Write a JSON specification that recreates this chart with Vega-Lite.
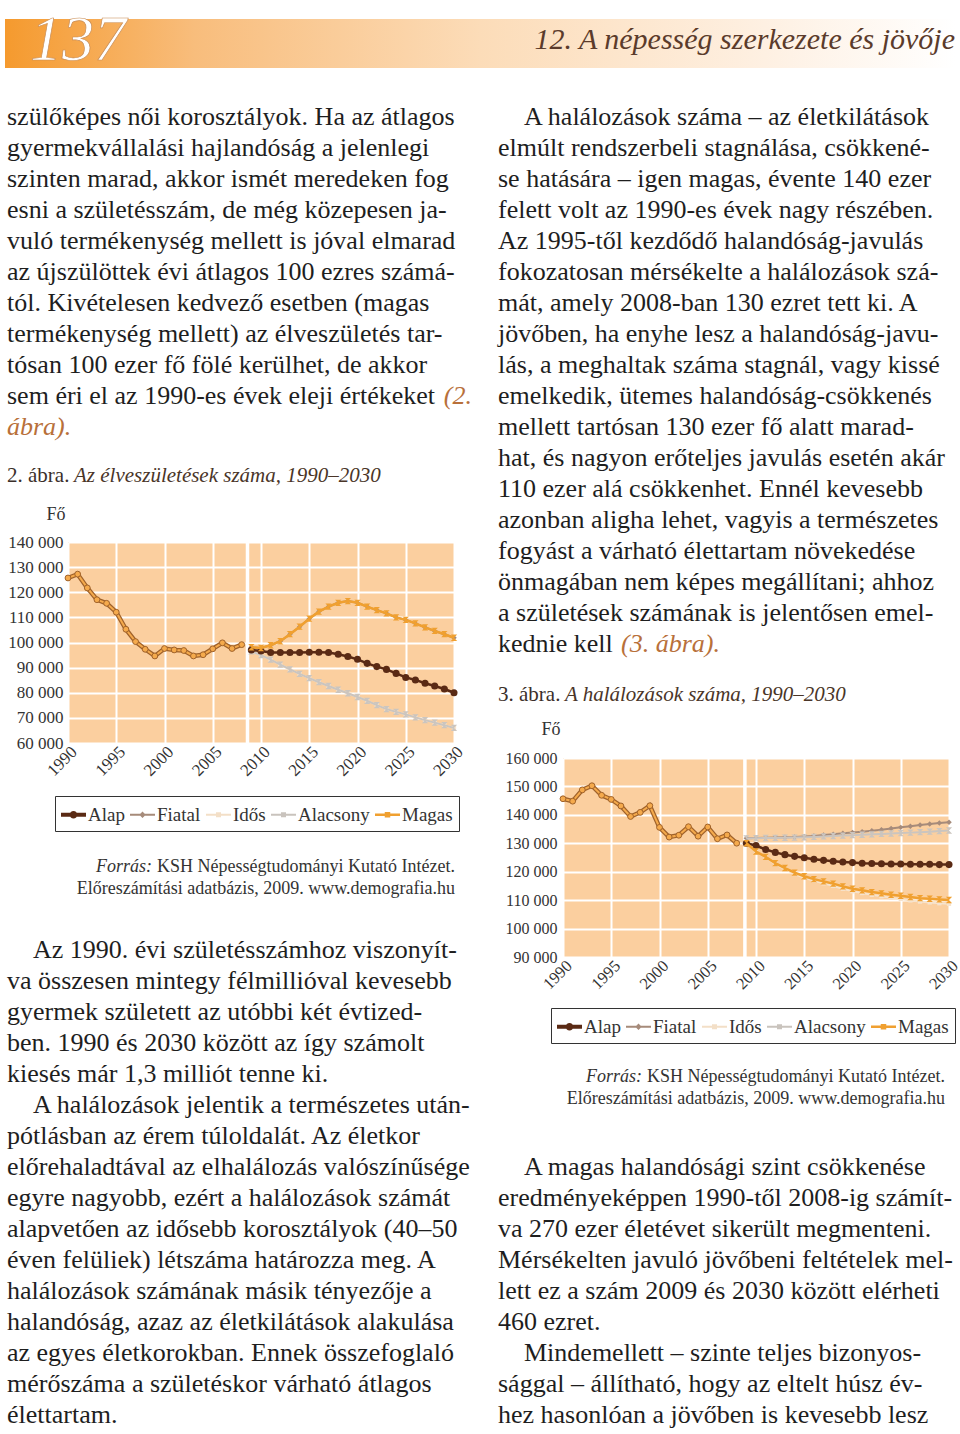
{
"$schema": "https://vega.github.io/schema/vega-lite/v6.json",
"background": "white",
"padding": {"left": 5, "top": 0, "right": 0, "bottom": 0},
"spacing": 0,
"bounds": "flush",
"config": {"view": {"stroke": null}, "concat": {"spacing": 0}, "axis": {"labelOverlap": false}},
"datasets": {
"head": [{"role": "page", "text": "137"}, {"role": "chapter", "text": "12. A népesség szerkezete és jövője"}],
"captions": [{"fig": 2, "line": 1, "num": "2. ábra.", "title": "Az élveszületések száma, 1990–2030"}, {"fig": 3, "line": 1, "num": "3. ábra.", "title": "A halálozások száma, 1990–2030"}],
"src": [{"line": 1, "label": "Forrás:", "text": "KSH Népességtudományi Kutató Intézet."}, {"line": 2, "label": "", "text": "Előreszámítási adatbázis, 2009. www.demografia.hu"}],
"left1": [
{"line": 1, "text": "szülőképes női korosztályok. Ha az átlagos"},
{"line": 2, "text": "gyermekvállalási hajlandóság a jelenlegi"},
{"line": 3, "text": "szinten marad, akkor ismét meredeken fog"},
{"line": 4, "text": "esni a születésszám, de még közepesen ja-"},
{"line": 5, "text": "vuló termékenység mellett is jóval elmarad"},
{"line": 6, "text": "az újszülöttek évi átlagos 100 ezres számá-"},
{"line": 7, "text": "tól. Kivételesen kedvező esetben (magas"},
{"line": 8, "text": "termékenység mellett) az élveszületés tar-"},
{"line": 9, "text": "tósan 100 ezer fő fölé kerülhet, de akkor"},
{"line": 10, "text": "sem éri el az 1990-es évek eleji értékeket"}],
"left1refEnd": [{"line": 10, "text": "(2."}],
"left1refStart": [{"line": 11, "text": "ábra)."}],
"left2first": [
{"line": 1, "text": "Az 1990. évi születésszámhoz viszonyít-"},
{"line": 6, "text": "A halálozások jelentik a természetes után-"}],
"left2": [
{"line": 2, "text": "va összesen mintegy félmillióval kevesebb"},
{"line": 3, "text": "gyermek született az utóbbi két évtized-"},
{"line": 4, "text": "ben. 1990 és 2030 között az így számolt"},
{"line": 5, "text": "kiesés már 1,3 milliót tenne ki."},
{"line": 7, "text": "pótlásban az érem túloldalát. Az életkor"},
{"line": 8, "text": "előrehaladtával az elhalálozás valószínűsége"},
{"line": 9, "text": "egyre nagyobb, ezért a halálozások számát"},
{"line": 10, "text": "alapvetően az idősebb korosztályok (40–50"},
{"line": 11, "text": "éven felüliek) létszáma határozza meg. A"},
{"line": 12, "text": "halálozások számának másik tényezője a"},
{"line": 13, "text": "halandóság, azaz az életkilátások alakulása"},
{"line": 14, "text": "az egyes életkorokban. Ennek összefoglaló"},
{"line": 15, "text": "mérőszáma a születéskor várható átlagos"},
{"line": 16, "text": "élettartam."}],
"right1first": [
{"line": 1, "text": "A halálozások száma – az életkilátások"}],
"right1": [
{"line": 2, "text": "elmúlt rendszerbeli stagnálása, csökkené-"},
{"line": 3, "text": "se hatására – igen magas, évente 140 ezer"},
{"line": 4, "text": "felett volt az 1990-es évek nagy részében."},
{"line": 5, "text": "Az 1995-től kezdődő halandóság-javulás"},
{"line": 6, "text": "fokozatosan mérsékelte a halálozások szá-"},
{"line": 7, "text": "mát, amely 2008-ban 130 ezret tett ki. A"},
{"line": 8, "text": "jövőben, ha enyhe lesz a halandóság-javu-"},
{"line": 9, "text": "lás, a meghaltak száma stagnál, vagy kissé"},
{"line": 10, "text": "emelkedik, ütemes halandóság-csökkenés"},
{"line": 11, "text": "mellett tartósan 130 ezer fő alatt marad-"},
{"line": 12, "text": "hat, és nagyon erőteljes javulás esetén akár"},
{"line": 13, "text": "110 ezer alá csökkenhet. Ennél kevesebb"},
{"line": 14, "text": "azonban aligha lehet, vagyis a természetes"},
{"line": 15, "text": "fogyást a várható élettartam növekedése"},
{"line": 16, "text": "önmagában nem képes megállítani; ahhoz"},
{"line": 17, "text": "a születések számának is jelentősen emel-"},
{"line": 18, "text": "kednie kell"}],
"right1ref": [{"line": 18, "text": "(3. ábra)."}],
"right2first": [
{"line": 1, "text": "A magas halandósági szint csökkenése"},
{"line": 7, "text": "Mindemellett – szinte teljes bizonyos-"}],
"right2": [
{"line": 2, "text": "eredményeképpen 1990-től 2008-ig számít-"},
{"line": 3, "text": "va 270 ezer életévet sikerült megmenteni."},
{"line": 4, "text": "Mérsékelten javuló jövőbeni feltételek mel-"},
{"line": 5, "text": "lett ez a szám 2009 és 2030 között elérheti"},
{"line": 6, "text": "460 ezret."},
{"line": 8, "text": "sággal – állítható, hogy az eltelt húsz év-"},
{"line": 9, "text": "hez hasonlóan a jövőben is kevesebb lesz"}],
"birthsHist": [
{"year": 1990, "value": 125679}, {"year": 1991, "value": 127207}, {"year": 1992, "value": 121724}, {"year": 1993, "value": 117033}, {"year": 1994, "value": 115598}, {"year": 1995, "value": 112054}, {"year": 1996, "value": 105272}, {"year": 1997, "value": 100350}, {"year": 1998, "value": 97301}, {"year": 1999, "value": 94645}, {"year": 2000, "value": 97597}, {"year": 2001, "value": 97047}, {"year": 2002, "value": 96804}, {"year": 2003, "value": 94647}, {"year": 2004, "value": 95137}, {"year": 2005, "value": 97496}, {"year": 2006, "value": 99871}, {"year": 2007, "value": 97613}, {"year": 2008, "value": 99149}],
"deathsHist": [
{"year": 1990, "value": 145660}, {"year": 1991, "value": 144813}, {"year": 1992, "value": 148781}, {"year": 1993, "value": 150244}, {"year": 1994, "value": 146889}, {"year": 1995, "value": 145431}, {"year": 1996, "value": 143130}, {"year": 1997, "value": 139434}, {"year": 1998, "value": 140870}, {"year": 1999, "value": 143210}, {"year": 2000, "value": 135601}, {"year": 2001, "value": 132183}, {"year": 2002, "value": 132833}, {"year": 2003, "value": 135823}, {"year": 2004, "value": 132492}, {"year": 2005, "value": 135732}, {"year": 2006, "value": 131603}, {"year": 2007, "value": 132938}, {"year": 2008, "value": 130027}],
"births": [
{"series": "Alap", "year": 2009, "value": 97000}, {"series": "Alap", "year": 2010, "value": 96600}, {"series": "Alap", "year": 2011, "value": 96000}, {"series": "Alap", "year": 2012, "value": 96000}, {"series": "Alap", "year": 2013, "value": 96000}, {"series": "Alap", "year": 2014, "value": 96000}, {"series": "Alap", "year": 2015, "value": 96100}, {"series": "Alap", "year": 2016, "value": 96100}, {"series": "Alap", "year": 2017, "value": 96000}, {"series": "Alap", "year": 2018, "value": 95300}, {"series": "Alap", "year": 2019, "value": 94400}, {"series": "Alap", "year": 2020, "value": 93300}, {"series": "Alap", "year": 2021, "value": 91700}, {"series": "Alap", "year": 2022, "value": 90400}, {"series": "Alap", "year": 2023, "value": 89300}, {"series": "Alap", "year": 2024, "value": 87700}, {"series": "Alap", "year": 2025, "value": 86100}, {"series": "Alap", "year": 2026, "value": 85100}, {"series": "Alap", "year": 2027, "value": 83800}, {"series": "Alap", "year": 2028, "value": 82700}, {"series": "Alap", "year": 2029, "value": 81500}, {"series": "Alap", "year": 2030, "value": 80000},
{"series": "Magas", "year": 2009, "value": 98100}, {"series": "Magas", "year": 2010, "value": 97800}, {"series": "Magas", "year": 2011, "value": 98900}, {"series": "Magas", "year": 2012, "value": 100500}, {"series": "Magas", "year": 2013, "value": 103300}, {"series": "Magas", "year": 2014, "value": 106300}, {"series": "Magas", "year": 2015, "value": 109500}, {"series": "Magas", "year": 2016, "value": 112300}, {"series": "Magas", "year": 2017, "value": 114300}, {"series": "Magas", "year": 2018, "value": 115800}, {"series": "Magas", "year": 2019, "value": 116500}, {"series": "Magas", "year": 2020, "value": 115800}, {"series": "Magas", "year": 2021, "value": 114300}, {"series": "Magas", "year": 2022, "value": 112900}, {"series": "Magas", "year": 2023, "value": 111600}, {"series": "Magas", "year": 2024, "value": 110000}, {"series": "Magas", "year": 2025, "value": 109000}, {"series": "Magas", "year": 2026, "value": 107600}, {"series": "Magas", "year": 2027, "value": 106000}, {"series": "Magas", "year": 2028, "value": 104600}, {"series": "Magas", "year": 2029, "value": 103300}, {"series": "Magas", "year": 2030, "value": 101900},
{"series": "Fiatal", "year": 2009, "value": 98100}, {"series": "Fiatal", "year": 2010, "value": 97800}, {"series": "Fiatal", "year": 2011, "value": 98900}, {"series": "Fiatal", "year": 2012, "value": 100500}, {"series": "Fiatal", "year": 2013, "value": 103300}, {"series": "Fiatal", "year": 2014, "value": 106300}, {"series": "Fiatal", "year": 2015, "value": 109500}, {"series": "Fiatal", "year": 2016, "value": 112300}, {"series": "Fiatal", "year": 2017, "value": 114300}, {"series": "Fiatal", "year": 2018, "value": 115800}, {"series": "Fiatal", "year": 2019, "value": 116500}, {"series": "Fiatal", "year": 2020, "value": 115800}, {"series": "Fiatal", "year": 2021, "value": 114300}, {"series": "Fiatal", "year": 2022, "value": 112900}, {"series": "Fiatal", "year": 2023, "value": 111600}, {"series": "Fiatal", "year": 2024, "value": 110000}, {"series": "Fiatal", "year": 2025, "value": 109000}, {"series": "Fiatal", "year": 2026, "value": 107600}, {"series": "Fiatal", "year": 2027, "value": 106000}, {"series": "Fiatal", "year": 2028, "value": 104600}, {"series": "Fiatal", "year": 2029, "value": 103300}, {"series": "Fiatal", "year": 2030, "value": 101900},
{"series": "Alacsony", "year": 2009, "value": 96500}, {"series": "Alacsony", "year": 2010, "value": 95000}, {"series": "Alacsony", "year": 2011, "value": 93200}, {"series": "Alacsony", "year": 2012, "value": 91200}, {"series": "Alacsony", "year": 2013, "value": 89300}, {"series": "Alacsony", "year": 2014, "value": 87500}, {"series": "Alacsony", "year": 2015, "value": 85800}, {"series": "Alacsony", "year": 2016, "value": 84200}, {"series": "Alacsony", "year": 2017, "value": 82700}, {"series": "Alacsony", "year": 2018, "value": 81200}, {"series": "Alacsony", "year": 2019, "value": 79800}, {"series": "Alacsony", "year": 2020, "value": 78300}, {"series": "Alacsony", "year": 2021, "value": 76800}, {"series": "Alacsony", "year": 2022, "value": 75100}, {"series": "Alacsony", "year": 2023, "value": 73500}, {"series": "Alacsony", "year": 2024, "value": 72400}, {"series": "Alacsony", "year": 2025, "value": 71400}, {"series": "Alacsony", "year": 2026, "value": 70200}, {"series": "Alacsony", "year": 2027, "value": 69100}, {"series": "Alacsony", "year": 2028, "value": 68100}, {"series": "Alacsony", "year": 2029, "value": 67100}, {"series": "Alacsony", "year": 2030, "value": 66000},
{"series": "Idős", "year": 2009, "value": 96500}, {"series": "Idős", "year": 2010, "value": 95000}, {"series": "Idős", "year": 2011, "value": 93200}, {"series": "Idős", "year": 2012, "value": 91200}, {"series": "Idős", "year": 2013, "value": 89300}, {"series": "Idős", "year": 2014, "value": 87500}, {"series": "Idős", "year": 2015, "value": 85800}, {"series": "Idős", "year": 2016, "value": 84200}, {"series": "Idős", "year": 2017, "value": 82700}, {"series": "Idős", "year": 2018, "value": 81200}, {"series": "Idős", "year": 2019, "value": 79800}, {"series": "Idős", "year": 2020, "value": 78300}, {"series": "Idős", "year": 2021, "value": 76800}, {"series": "Idős", "year": 2022, "value": 75100}, {"series": "Idős", "year": 2023, "value": 73500}, {"series": "Idős", "year": 2024, "value": 72400}, {"series": "Idős", "year": 2025, "value": 71400}, {"series": "Idős", "year": 2026, "value": 70200}, {"series": "Idős", "year": 2027, "value": 69100}, {"series": "Idős", "year": 2028, "value": 68100}, {"series": "Idős", "year": 2029, "value": 67100}, {"series": "Idős", "year": 2030, "value": 66000}],
"deaths": [
{"series": "Alap", "year": 2009, "value": 130000}, {"series": "Alap", "year": 2010, "value": 129200}, {"series": "Alap", "year": 2011, "value": 127800}, {"series": "Alap", "year": 2012, "value": 126800}, {"series": "Alap", "year": 2013, "value": 126000}, {"series": "Alap", "year": 2014, "value": 125400}, {"series": "Alap", "year": 2015, "value": 124900}, {"series": "Alap", "year": 2016, "value": 124400}, {"series": "Alap", "year": 2017, "value": 124000}, {"series": "Alap", "year": 2018, "value": 123700}, {"series": "Alap", "year": 2019, "value": 123400}, {"series": "Alap", "year": 2020, "value": 123200}, {"series": "Alap", "year": 2021, "value": 123000}, {"series": "Alap", "year": 2022, "value": 122900}, {"series": "Alap", "year": 2023, "value": 122800}, {"series": "Alap", "year": 2024, "value": 122700}, {"series": "Alap", "year": 2025, "value": 122700}, {"series": "Alap", "year": 2026, "value": 122600}, {"series": "Alap", "year": 2027, "value": 122600}, {"series": "Alap", "year": 2028, "value": 122600}, {"series": "Alap", "year": 2029, "value": 122500}, {"series": "Alap", "year": 2030, "value": 122500},
{"series": "Magas", "year": 2009, "value": 130000}, {"series": "Magas", "year": 2010, "value": 127100}, {"series": "Magas", "year": 2011, "value": 125200}, {"series": "Magas", "year": 2012, "value": 123000}, {"series": "Magas", "year": 2013, "value": 121300}, {"series": "Magas", "year": 2014, "value": 119700}, {"series": "Magas", "year": 2015, "value": 118400}, {"series": "Magas", "year": 2016, "value": 117400}, {"series": "Magas", "year": 2017, "value": 116600}, {"series": "Magas", "year": 2018, "value": 115800}, {"series": "Magas", "year": 2019, "value": 114850}, {"series": "Magas", "year": 2020, "value": 114000}, {"series": "Magas", "year": 2021, "value": 113450}, {"series": "Magas", "year": 2022, "value": 112850}, {"series": "Magas", "year": 2023, "value": 112400}, {"series": "Magas", "year": 2024, "value": 111900}, {"series": "Magas", "year": 2025, "value": 111550}, {"series": "Magas", "year": 2026, "value": 111100}, {"series": "Magas", "year": 2027, "value": 110700}, {"series": "Magas", "year": 2028, "value": 110500}, {"series": "Magas", "year": 2029, "value": 110250}, {"series": "Magas", "year": 2030, "value": 110050},
{"series": "Idős", "year": 2009, "value": 130000}, {"series": "Idős", "year": 2010, "value": 127000}, {"series": "Idős", "year": 2011, "value": 125000}, {"series": "Idős", "year": 2012, "value": 122700}, {"series": "Idős", "year": 2013, "value": 120900}, {"series": "Idős", "year": 2014, "value": 119200}, {"series": "Idős", "year": 2015, "value": 117900}, {"series": "Idős", "year": 2016, "value": 116800}, {"series": "Idős", "year": 2017, "value": 115900}, {"series": "Idős", "year": 2018, "value": 115000}, {"series": "Idős", "year": 2019, "value": 114000}, {"series": "Idős", "year": 2020, "value": 113100}, {"series": "Idős", "year": 2021, "value": 112500}, {"series": "Idős", "year": 2022, "value": 111850}, {"series": "Idős", "year": 2023, "value": 111350}, {"series": "Idős", "year": 2024, "value": 110800}, {"series": "Idős", "year": 2025, "value": 110400}, {"series": "Idős", "year": 2026, "value": 109900}, {"series": "Idős", "year": 2027, "value": 109500}, {"series": "Idős", "year": 2028, "value": 109200}, {"series": "Idős", "year": 2029, "value": 108900}, {"series": "Idős", "year": 2030, "value": 108700},
{"series": "Fiatal", "year": 2009, "value": 131800}, {"series": "Fiatal", "year": 2010, "value": 131900}, {"series": "Fiatal", "year": 2011, "value": 131950}, {"series": "Fiatal", "year": 2012, "value": 132000}, {"series": "Fiatal", "year": 2013, "value": 132100}, {"series": "Fiatal", "year": 2014, "value": 132200}, {"series": "Fiatal", "year": 2015, "value": 132400}, {"series": "Fiatal", "year": 2016, "value": 132600}, {"series": "Fiatal", "year": 2017, "value": 132900}, {"series": "Fiatal", "year": 2018, "value": 133200}, {"series": "Fiatal", "year": 2019, "value": 133500}, {"series": "Fiatal", "year": 2020, "value": 133800}, {"series": "Fiatal", "year": 2021, "value": 134100}, {"series": "Fiatal", "year": 2022, "value": 134400}, {"series": "Fiatal", "year": 2023, "value": 134800}, {"series": "Fiatal", "year": 2024, "value": 135200}, {"series": "Fiatal", "year": 2025, "value": 135600}, {"series": "Fiatal", "year": 2026, "value": 136000}, {"series": "Fiatal", "year": 2027, "value": 136400}, {"series": "Fiatal", "year": 2028, "value": 136800}, {"series": "Fiatal", "year": 2029, "value": 137100}, {"series": "Fiatal", "year": 2030, "value": 137400},
{"series": "Alacsony", "year": 2009, "value": 131700}, {"series": "Alacsony", "year": 2010, "value": 131800}, {"series": "Alacsony", "year": 2011, "value": 131850}, {"series": "Alacsony", "year": 2012, "value": 131900}, {"series": "Alacsony", "year": 2013, "value": 131950}, {"series": "Alacsony", "year": 2014, "value": 132000}, {"series": "Alacsony", "year": 2015, "value": 132100}, {"series": "Alacsony", "year": 2016, "value": 132250}, {"series": "Alacsony", "year": 2017, "value": 132400}, {"series": "Alacsony", "year": 2018, "value": 132550}, {"series": "Alacsony", "year": 2019, "value": 132700}, {"series": "Alacsony", "year": 2020, "value": 132850}, {"series": "Alacsony", "year": 2021, "value": 133000}, {"series": "Alacsony", "year": 2022, "value": 133150}, {"series": "Alacsony", "year": 2023, "value": 133300}, {"series": "Alacsony", "year": 2024, "value": 133450}, {"series": "Alacsony", "year": 2025, "value": 133600}, {"series": "Alacsony", "year": 2026, "value": 133750}, {"series": "Alacsony", "year": 2027, "value": 133900}, {"series": "Alacsony", "year": 2028, "value": 134100}, {"series": "Alacsony", "year": 2029, "value": 134300}, {"series": "Alacsony", "year": 2030, "value": 134500}]
},
"vconcat": [
{"width": 1, "height": 19, "data": {"values": []}, "mark": "point"},
{"width": 950, "height": 49, "data": {"name": "head"},
 "layer": [
  {"transform": [{"filter": "datum.role === 'page'"}],
   "mark": {"type": "rect", "color": {"gradient": "linear", "x1": 0, "y1": 0, "x2": 1, "y2": 0, "stops": [{"offset": 0, "color": "#f59a2e"}, {"offset": 0.2, "color": "#f8bd7c"}, {"offset": 0.5, "color": "#fcdcb8"}, {"offset": 0.8, "color": "#fef0e2"}, {"offset": 1, "color": "#ffffff"}]}},
   "encoding": {"x": {"datum": 0, "type": "quantitative", "scale": {"domain": [0, 1]}, "axis": null}, "x2": {"datum": 1}}},
  {"transform": [{"filter": "datum.role === 'page'"}],
   "mark": {"type": "text", "align": "left", "baseline": "alphabetic", "dx": 25, "dy": 16.5, "font": "Liberation Serif", "fontStyle": "italic", "fontSize": 64, "color": "#ffffff", "stroke": "#c98d55", "strokeWidth": 0.7},
   "encoding": {"x": {"datum": 0, "type": "quantitative"}, "text": {"field": "text", "type": "nominal"}}},
  {"transform": [{"filter": "datum.role === 'chapter'"}],
   "mark": {"type": "text", "align": "right", "baseline": "middle", "dy": -3.5, "font": "Liberation Serif", "fontStyle": "italic", "fontSize": 30, "color": "#5b3b2b"},
   "encoding": {"x": {"datum": 1, "type": "quantitative"}, "text": {"field": "text", "type": "nominal"}}}
 ]},
{"width": 1, "height": 33, "data": {"values": []}, "mark": "point"},
{"hconcat": [
  {"width": 2, "height": 1, "data": {"values": []}, "mark": "point"},
  {"vconcat": [
    {"width": 480, "height": 341,
     "layer": [
      {"data": {"name": "left1"}, "mark": {"type": "text", "align": "left", "baseline": "middle", "font": "Liberation Serif", "fontSize": 26, "color": "#1e1e1e"},
       "encoding": {"x": {"datum": 0, "type": "quantitative", "scale": {"domain": [0, 1]}, "axis": null}, "y": {"field": "line", "type": "quantitative", "scale": {"domain": [0.5, 11.5], "reverse": true, "nice": false, "zero": false}, "axis": null}, "text": {"field": "text", "type": "nominal"}}},
      {"data": {"name": "left1refEnd"}, "mark": {"type": "text", "align": "right", "baseline": "middle", "dx": -15, "font": "Liberation Serif", "fontStyle": "italic", "fontSize": 26, "color": "#b8703a"},
       "encoding": {"x": {"datum": 1, "type": "quantitative"}, "y": {"field": "line", "type": "quantitative"}, "text": {"field": "text", "type": "nominal"}}},
      {"data": {"name": "left1refStart"}, "mark": {"type": "text", "align": "left", "baseline": "middle", "font": "Liberation Serif", "fontStyle": "italic", "fontSize": 26, "color": "#b8703a"},
       "encoding": {"x": {"datum": 0, "type": "quantitative"}, "y": {"field": "line", "type": "quantitative"}, "text": {"field": "text", "type": "nominal"}}}
     ]},
    {"width": 480, "height": 63, "data": {"name": "captions"}, "transform": [{"filter": "datum.fig === 2"}],
     "layer": [
      {"mark": {"type": "text", "align": "left", "baseline": "middle", "dy": 2.5, "font": "Liberation Serif", "fontSize": 21, "color": "#3b2f2a"},
       "encoding": {"x": {"datum": 0, "type": "quantitative", "scale": {"domain": [0, 1]}, "axis": null}, "y": {"field": "line", "type": "quantitative", "scale": {"domain": [0.5, 1.5], "reverse": true, "nice": false, "zero": false}, "axis": null}, "text": {"field": "num", "type": "nominal"}}},
      {"mark": {"type": "text", "align": "left", "baseline": "middle", "dx": 67, "dy": 2.5, "font": "Liberation Serif", "fontStyle": "italic", "fontSize": 21, "color": "#4a3528"},
       "encoding": {"x": {"datum": 0, "type": "quantitative"}, "y": {"field": "line", "type": "quantitative"}, "text": {"field": "title", "type": "nominal"}}}
     ]},
    {"hconcat": [
      {"width": 61, "height": 1, "data": {"values": []}, "mark": "point"},
      {"width": 386, "height": 201, "view": {"fill": "#fbcf9f", "stroke": null},
       "layer": [
        {"data": {"name": "births"}, "transform": [{"filter": "datum.series === 'Idős'"}],
         "mark": {"type": "line", "color": "#f6e3cd", "strokeWidth": 2, "point": {"shape": "square", "size": 18, "filled": true, "color": "#f6e3cd", "opacity": 1}},
         "encoding": {
          "x": {"field": "year", "type": "quantitative", "scale": {"domain": [1990, 2030], "nice": false, "zero": false}, "axis": {"values": [1990, 1995, 2000, 2005, 2010, 2015, 2020, 2025, 2030], "tickCount": 20, "format": "d", "title": null, "labelAngle": -45, "labelAlign": "right", "labelBaseline": "middle", "labelPadding": 6, "labelOffset": 6, "labelFlush": false, "labelOverlap": false, "labelBound": false, "domain": false, "ticks": false, "grid": true, "gridColor": "#ffffff", "gridWidth": 2, "gridOpacity": 1, "labelFont": "Liberation Serif", "labelFontSize": 17, "labelColor": "#333333"}},
          "y": {"field": "value", "type": "quantitative", "scale": {"domain": [60000, 140000], "nice": false, "zero": false}, "axis": {"values": [60000, 70000, 80000, 90000, 100000, 110000, 120000, 130000, 140000], "tickCount": 20, "labelExpr": "replace(format(datum.value, ','), ',', ' ')", "labelOverlap": false, "labelFlush": false, "title": "Fő", "titleAngle": 0, "titleAlign": "right", "titleBaseline": "middle", "titleX": -3, "titleY": -28, "titleFont": "Liberation Serif", "titleFontSize": 18, "titleFontWeight": "normal", "titleColor": "#333333", "labelPadding": 5, "domain": false, "ticks": false, "grid": true, "gridColor": "#ffffff", "gridWidth": 2, "gridOpacity": 1, "labelFont": "Liberation Serif", "labelFontSize": 17, "labelColor": "#333333"}}}},
        {"data": {"values": [{"boundary": "előreszámítás kezdete"}]}, "mark": {"type": "rule", "color": "#ffffff", "strokeWidth": 3.5}, "encoding": {"x": {"datum": 2008.6, "type": "quantitative"}}},
        {"data": {"name": "births"}, "transform": [{"filter": "datum.series === 'Fiatal'"}],
         "mark": {"type": "line", "color": "#a68b7a", "strokeWidth": 2, "point": {"shape": "diamond", "size": 30, "filled": true, "color": "#a68b7a", "opacity": 1}},
         "encoding": {"x": {"field": "year", "type": "quantitative"}, "y": {"field": "value", "type": "quantitative"}}},
        {"data": {"name": "births"}, "transform": [{"filter": "datum.series === 'Alacsony'"}],
         "mark": {"type": "line", "color": "#cbc5bf", "strokeWidth": 2, "point": {"shape": "M-1,-1H1L-1,1H1Z", "size": 40, "filled": true, "color": "#cbc5bf", "opacity": 1}},
         "encoding": {"x": {"field": "year", "type": "quantitative"}, "y": {"field": "value", "type": "quantitative"}}},
        {"data": {"name": "births"}, "transform": [{"filter": "datum.series === 'Alap'"}],
         "mark": {"type": "line", "color": "#5a2a14", "strokeWidth": 2.5, "point": {"shape": "circle", "size": 50, "filled": true, "color": "#5a2a14", "opacity": 1}},
         "encoding": {"x": {"field": "year", "type": "quantitative"}, "y": {"field": "value", "type": "quantitative"}}},
        {"data": {"name": "births"}, "transform": [{"filter": "datum.series === 'Magas'"}],
         "mark": {"type": "line", "color": "#f0a030", "strokeWidth": 2.5, "point": {"shape": "M-1,-1H1L-1,1H1Z", "size": 40, "filled": true, "color": "#f0a030", "opacity": 1}},
         "encoding": {"x": {"field": "year", "type": "quantitative"}, "y": {"field": "value", "type": "quantitative"}}},
        {"data": {"name": "birthsHist"}, "mark": {"type": "line", "color": "#a0622a", "strokeWidth": 4.5},
         "encoding": {"x": {"field": "year", "type": "quantitative"}, "y": {"field": "value", "type": "quantitative"}}},
        {"data": {"name": "birthsHist"}, "mark": {"type": "line", "color": "#f5aa4c", "strokeWidth": 2, "point": {"shape": "circle", "size": 34, "filled": true, "fill": "#f5aa4c", "stroke": "#a0622a", "strokeWidth": 1, "opacity": 1}},
         "encoding": {"x": {"field": "year", "type": "quantitative"}, "y": {"field": "value", "type": "quantitative"}}},
        {"data": {"values": []}, "mark": {"type": "point", "filled": true, "size": 625, "opacity": 1, "strokeWidth": 0},
         "encoding": {
          "fill": {"field": "series", "type": "nominal", "scale": {"domain": ["Alap", "Fiatal", "Idős", "Alacsony", "Magas"], "range": ["#5a2a14", "#a68b7a", "#f3dfc7", "#c9c3bd", "#f0a030"]}, "legend": {"title": null, "orient": "none", "legendX": -13, "legendY": 254, "direction": "horizontal", "strokeColor": "#333333", "padding": 6, "symbolSize": 625, "symbolStrokeWidth": 0, "labelFont": "Liberation Serif", "labelFontSize": 19, "labelColor": "#333333", "labelOffset": 2, "columnPadding": 5}},
          "shape": {"field": "series", "type": "nominal", "scale": {"domain": ["Alap", "Fiatal", "Idős", "Alacsony", "Magas"], "range": ["M-1,-0.16H1V0.16H-1Z M0.3,0A0.3,0.3 0 1,1 -0.3,0A0.3,0.3 0 1,1 0.3,0Z", "M-1,-0.08H1V0.08H-1Z M0,-0.26L0.26,0L0,0.26L-0.26,0Z", "M-1,-0.08H1V0.08H-1Z M-0.2,-0.2H0.2V0.2H-0.2Z", "M-1,-0.08H1V0.08H-1Z M-0.2,-0.2H0.2V0.2H-0.2Z", "M-1,-0.1H1V0.1H-1Z M-0.22,-0.22H0.22V0.22H-0.22Z"]}, "legend": {"title": null, "orient": "none", "legendX": -13, "legendY": 254, "direction": "horizontal", "strokeColor": "#333333", "padding": 6, "symbolSize": 625, "symbolStrokeWidth": 0, "labelFont": "Liberation Serif", "labelFontSize": 19, "labelColor": "#333333", "labelOffset": 2, "columnPadding": 5}}}}
       ]}
     ], "spacing": 0, "bounds": "flush",
     "resolve": {"scale": {"fill": "independent", "shape": "independent"}, "legend": {"fill": "independent", "shape": "independent"}}},
    {"width": 1, "height": 23.5, "data": {"values": []}, "mark": "point"},
    {"width": 448, "height": 44, "data": {"name": "src"},
     "layer": [
      {"mark": {"type": "text", "align": "right", "baseline": "middle", "font": "Liberation Serif", "fontSize": 18, "color": "#333333"},
       "encoding": {"x": {"datum": 1, "type": "quantitative", "scale": {"domain": [0, 1]}, "axis": null}, "y": {"field": "line", "type": "quantitative", "scale": {"domain": [0.5, 2.5], "reverse": true, "nice": false, "zero": false}, "axis": null}, "text": {"field": "text", "type": "nominal"}}},
      {"mark": {"type": "text", "align": "right", "baseline": "middle", "dx": -303, "font": "Liberation Serif", "fontStyle": "italic", "fontSize": 18, "color": "#333333"},
       "encoding": {"x": {"datum": 1, "type": "quantitative"}, "y": {"field": "line", "type": "quantitative"}, "text": {"field": "label", "type": "nominal"}}}
     ]},
    {"width": 1, "height": 33.5, "data": {"values": []}, "mark": "point"},
    {"width": 480, "height": 496,
     "layer": [
      {"data": {"name": "left2"}, "mark": {"type": "text", "align": "left", "baseline": "middle", "font": "Liberation Serif", "fontSize": 26, "color": "#1e1e1e"},
       "encoding": {"x": {"datum": 0, "type": "quantitative", "scale": {"domain": [0, 1]}, "axis": null}, "y": {"field": "line", "type": "quantitative", "scale": {"domain": [0.5, 16.5], "reverse": true, "nice": false, "zero": false}, "axis": null}, "text": {"field": "text", "type": "nominal"}}},
      {"data": {"name": "left2first"}, "mark": {"type": "text", "align": "left", "baseline": "middle", "dx": 26, "font": "Liberation Serif", "fontSize": 26, "color": "#1e1e1e"},
       "encoding": {"x": {"datum": 0, "type": "quantitative"}, "y": {"field": "line", "type": "quantitative"}, "text": {"field": "text", "type": "nominal"}}}
     ]}
   ], "spacing": 0, "bounds": "full"},
  {"width": 11, "height": 1, "data": {"values": []}, "mark": "point"},
  {"vconcat": [
    {"width": 459, "height": 558,
     "layer": [
      {"data": {"name": "right1"}, "mark": {"type": "text", "align": "left", "baseline": "middle", "font": "Liberation Serif", "fontSize": 26, "color": "#1e1e1e"},
       "encoding": {"x": {"datum": 0, "type": "quantitative", "scale": {"domain": [0, 1]}, "axis": null}, "y": {"field": "line", "type": "quantitative", "scale": {"domain": [0.5, 18.5], "reverse": true, "nice": false, "zero": false}, "axis": null}, "text": {"field": "text", "type": "nominal"}}},
      {"data": {"name": "right1first"}, "mark": {"type": "text", "align": "left", "baseline": "middle", "dx": 26, "font": "Liberation Serif", "fontSize": 26, "color": "#1e1e1e"},
       "encoding": {"x": {"datum": 0, "type": "quantitative"}, "y": {"field": "line", "type": "quantitative"}, "text": {"field": "text", "type": "nominal"}}},
      {"data": {"name": "right1ref"}, "mark": {"type": "text", "align": "left", "baseline": "middle", "dx": 123, "font": "Liberation Serif", "fontStyle": "italic", "fontSize": 26, "color": "#b8703a"},
       "encoding": {"x": {"datum": 0, "type": "quantitative"}, "y": {"field": "line", "type": "quantitative"}, "text": {"field": "text", "type": "nominal"}}}
     ]},
    {"width": 459, "height": 61, "data": {"name": "captions"}, "transform": [{"filter": "datum.fig === 3"}],
     "layer": [
      {"mark": {"type": "text", "align": "left", "baseline": "middle", "dy": 5.5, "font": "Liberation Serif", "fontSize": 21, "color": "#3b2f2a"},
       "encoding": {"x": {"datum": 0, "type": "quantitative", "scale": {"domain": [0, 1]}, "axis": null}, "y": {"field": "line", "type": "quantitative", "scale": {"domain": [0.5, 1.5], "reverse": true, "nice": false, "zero": false}, "axis": null}, "text": {"field": "num", "type": "nominal"}}},
      {"mark": {"type": "text", "align": "left", "baseline": "middle", "dx": 67, "dy": 5.5, "font": "Liberation Serif", "fontStyle": "italic", "fontSize": 21, "color": "#4a3528"},
       "encoding": {"x": {"datum": 0, "type": "quantitative"}, "y": {"field": "line", "type": "quantitative"}, "text": {"field": "title", "type": "nominal"}}}
     ]},
    {"hconcat": [
      {"width": 65, "height": 1, "data": {"values": []}, "mark": "point"},
      {"width": 386, "height": 199, "view": {"fill": "#fbcf9f", "stroke": null},
       "layer": [
        {"data": {"name": "deaths"}, "transform": [{"filter": "datum.series === 'Idős'"}],
         "mark": {"type": "line", "color": "#f6e3cd", "strokeWidth": 2, "point": {"shape": "square", "size": 18, "filled": true, "color": "#f6e3cd", "opacity": 1}},
         "encoding": {
          "x": {"field": "year", "type": "quantitative", "scale": {"domain": [1990, 2030], "nice": false, "zero": false}, "axis": {"values": [1990, 1995, 2000, 2005, 2010, 2015, 2020, 2025, 2030], "tickCount": 20, "format": "d", "title": null, "labelAngle": -45, "labelAlign": "right", "labelBaseline": "middle", "labelPadding": 6, "labelOffset": 6, "labelFlush": false, "labelOverlap": false, "labelBound": false, "domain": false, "ticks": false, "grid": true, "gridColor": "#ffffff", "gridWidth": 2, "gridOpacity": 1, "labelFont": "Liberation Serif", "labelFontSize": 16.5, "labelColor": "#333333"}},
          "y": {"field": "value", "type": "quantitative", "scale": {"domain": [90000, 160000], "nice": false, "zero": false}, "axis": {"values": [90000, 100000, 110000, 120000, 130000, 140000, 150000, 160000], "tickCount": 20, "labelExpr": "replace(format(datum.value, ','), ',', ' ')", "labelOverlap": false, "labelFlush": false, "title": "Fő", "titleAngle": 0, "titleAlign": "right", "titleBaseline": "middle", "titleX": -3, "titleY": -29, "titleFont": "Liberation Serif", "titleFontSize": 18, "titleFontWeight": "normal", "titleColor": "#333333", "labelPadding": 6, "domain": false, "ticks": false, "grid": true, "gridColor": "#ffffff", "gridWidth": 2, "gridOpacity": 1, "labelFont": "Liberation Serif", "labelFontSize": 16, "labelColor": "#333333"}}}},
        {"data": {"values": [{"boundary": "előreszámítás kezdete"}]}, "mark": {"type": "rule", "color": "#ffffff", "strokeWidth": 3.5}, "encoding": {"x": {"datum": 2008.85, "type": "quantitative"}}},
        {"data": {"name": "deaths"}, "transform": [{"filter": "datum.series === 'Fiatal'"}],
         "mark": {"type": "line", "color": "#a68b7a", "strokeWidth": 2, "point": {"shape": "diamond", "size": 30, "filled": true, "color": "#a68b7a", "opacity": 1}},
         "encoding": {"x": {"field": "year", "type": "quantitative"}, "y": {"field": "value", "type": "quantitative"}}},
        {"data": {"name": "deaths"}, "transform": [{"filter": "datum.series === 'Alacsony'"}],
         "mark": {"type": "line", "color": "#cbc5bf", "strokeWidth": 2, "point": {"shape": "M-1,-1H1L-1,1H1Z", "size": 40, "filled": true, "color": "#cbc5bf", "opacity": 1}},
         "encoding": {"x": {"field": "year", "type": "quantitative"}, "y": {"field": "value", "type": "quantitative"}}},
        {"data": {"name": "deaths"}, "transform": [{"filter": "datum.series === 'Alap'"}],
         "mark": {"type": "line", "color": "#5a2a14", "strokeWidth": 2.5, "point": {"shape": "circle", "size": 50, "filled": true, "color": "#5a2a14", "opacity": 1}},
         "encoding": {"x": {"field": "year", "type": "quantitative"}, "y": {"field": "value", "type": "quantitative"}}},
        {"data": {"name": "deaths"}, "transform": [{"filter": "datum.series === 'Magas'"}],
         "mark": {"type": "line", "color": "#f0a030", "strokeWidth": 2.5, "point": {"shape": "M-1,-1H1L-1,1H1Z", "size": 40, "filled": true, "color": "#f0a030", "opacity": 1}},
         "encoding": {"x": {"field": "year", "type": "quantitative"}, "y": {"field": "value", "type": "quantitative"}}},
        {"data": {"name": "deathsHist"}, "mark": {"type": "line", "color": "#a0622a", "strokeWidth": 4.5},
         "encoding": {"x": {"field": "year", "type": "quantitative"}, "y": {"field": "value", "type": "quantitative"}}},
        {"data": {"name": "deathsHist"}, "mark": {"type": "line", "color": "#f5aa4c", "strokeWidth": 2, "point": {"shape": "circle", "size": 34, "filled": true, "fill": "#f5aa4c", "stroke": "#a0622a", "strokeWidth": 1, "opacity": 1}},
         "encoding": {"x": {"field": "year", "type": "quantitative"}, "y": {"field": "value", "type": "quantitative"}}},
        {"data": {"values": []}, "mark": {"type": "point", "filled": true, "size": 625, "opacity": 1, "strokeWidth": 0},
         "encoding": {
          "fill": {"field": "series", "type": "nominal", "scale": {"domain": ["Alap", "Fiatal", "Idős", "Alacsony", "Magas"], "range": ["#5a2a14", "#a68b7a", "#f3dfc7", "#c9c3bd", "#f0a030"]}, "legend": {"title": null, "orient": "none", "legendX": -12, "legendY": 250, "direction": "horizontal", "strokeColor": "#333333", "padding": 6, "symbolSize": 625, "symbolStrokeWidth": 0, "labelFont": "Liberation Serif", "labelFontSize": 19, "labelColor": "#333333", "labelOffset": 2, "columnPadding": 5}},
          "shape": {"field": "series", "type": "nominal", "scale": {"domain": ["Alap", "Fiatal", "Idős", "Alacsony", "Magas"], "range": ["M-1,-0.16H1V0.16H-1Z M0.3,0A0.3,0.3 0 1,1 -0.3,0A0.3,0.3 0 1,1 0.3,0Z", "M-1,-0.08H1V0.08H-1Z M0,-0.26L0.26,0L0,0.26L-0.26,0Z", "M-1,-0.08H1V0.08H-1Z M-0.2,-0.2H0.2V0.2H-0.2Z", "M-1,-0.08H1V0.08H-1Z M-0.2,-0.2H0.2V0.2H-0.2Z", "M-1,-0.1H1V0.1H-1Z M-0.22,-0.22H0.22V0.22H-0.22Z"]}, "legend": {"title": null, "orient": "none", "legendX": -12, "legendY": 250, "direction": "horizontal", "strokeColor": "#333333", "padding": 6, "symbolSize": 625, "symbolStrokeWidth": 0, "labelFont": "Liberation Serif", "labelFontSize": 19, "labelColor": "#333333", "labelOffset": 2, "columnPadding": 5}}}}
       ]}
     ], "spacing": 0, "bounds": "flush",
     "resolve": {"scale": {"fill": "independent", "shape": "independent"}, "legend": {"fill": "independent", "shape": "independent"}}},
    {"width": 1, "height": 21.5, "data": {"values": []}, "mark": "point"},
    {"width": 447, "height": 44, "data": {"name": "src"},
     "layer": [
      {"mark": {"type": "text", "align": "right", "baseline": "middle", "font": "Liberation Serif", "fontSize": 18, "color": "#333333"},
       "encoding": {"x": {"datum": 1, "type": "quantitative", "scale": {"domain": [0, 1]}, "axis": null}, "y": {"field": "line", "type": "quantitative", "scale": {"domain": [0.5, 2.5], "reverse": true, "nice": false, "zero": false}, "axis": null}, "text": {"field": "text", "type": "nominal"}}},
      {"mark": {"type": "text", "align": "right", "baseline": "middle", "dx": -303, "font": "Liberation Serif", "fontStyle": "italic", "fontSize": 18, "color": "#333333"},
       "encoding": {"x": {"datum": 1, "type": "quantitative"}, "y": {"field": "line", "type": "quantitative"}, "text": {"field": "label", "type": "nominal"}}}
     ]},
    {"width": 1, "height": 40.5, "data": {"values": []}, "mark": "point"},
    {"width": 459, "height": 279,
     "layer": [
      {"data": {"name": "right2"}, "mark": {"type": "text", "align": "left", "baseline": "middle", "font": "Liberation Serif", "fontSize": 26, "color": "#1e1e1e"},
       "encoding": {"x": {"datum": 0, "type": "quantitative", "scale": {"domain": [0, 1]}, "axis": null}, "y": {"field": "line", "type": "quantitative", "scale": {"domain": [0.5, 9.5], "reverse": true, "nice": false, "zero": false}, "axis": null}, "text": {"field": "text", "type": "nominal"}}},
      {"data": {"name": "right2first"}, "mark": {"type": "text", "align": "left", "baseline": "middle", "dx": 26, "font": "Liberation Serif", "fontSize": 26, "color": "#1e1e1e"},
       "encoding": {"x": {"datum": 0, "type": "quantitative"}, "y": {"field": "line", "type": "quantitative"}, "text": {"field": "text", "type": "nominal"}}}
     ]}
   ], "spacing": 0, "bounds": "full"}
 ], "spacing": 0, "bounds": "full"}
]
}
